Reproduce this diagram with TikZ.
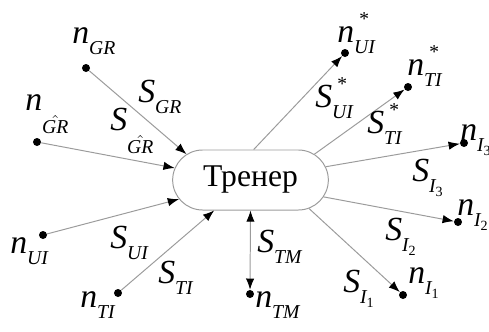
\documentclass[tikz,border=0pt]{standalone}
\usepackage{amsmath}
\usepackage{fontspec}
\setmainfont{Liberation Serif}
\usetikzlibrary{arrows.meta,shapes.misc}
\definecolor{lineg}{RGB}{155,155,155}
% label parts
\newcommand{\lsub}[1]{\raisebox{-8pt}{\fontsize{14}{14}\selectfont #1}}
\newcommand{\lidx}[1]{I\raisebox{-3pt}{\fontsize{10}{10}\selectfont\upshape #1}}
\newcommand{\lstar}{\makebox[0pt][l]{\hspace{3pt}\raisebox{12pt}{\fontsize{14}{14}\selectfont *}}}
\newcommand{\lhat}[1]{\raisebox{-17pt}{\fontsize{14}{14}\selectfont$\hat{\textit{#1}}$}}
\tikzset{
  dot/.style={circle,fill=black,inner sep=0pt,minimum size=0.2cm},
  conn/.style={draw=lineg,line width=0.7pt,-{Latex[length=2.8mm,width=2.1mm,color=black]}},
  both/.style={draw=lineg,line width=0.7pt,{Latex[length=2.8mm,width=2.1mm,color=black]}-{Latex[length=2.8mm,width=2.1mm,color=black]}},
  lbl/.style={anchor=base west,inner sep=0pt,font=\fontsize{24}{26}\selectfont\itshape},
}

\begin{document}
\begin{tikzpicture}[x=0.025cm,y=-0.025cm]
  \useasboundingbox (0,0) rectangle (489,331);
  %% Trainer
  \node[draw=lineg,line width=0.7pt,rounded rectangle,
        minimum width=4.125cm,minimum height=1.5cm,
        font=\fontsize{22.5}{24}\selectfont] (trainer) at (250.5,180) {Тренер};

  %% Points
  \node[dot] (nGR)  at (86,68) {};
  \node[dot] (nGRh) at (37,142) {};
  \node[dot] (nUI)  at (43,235) {};
  \node[dot] (nTI)  at (118,293) {};
  \node[dot] (nTM)  at (250,294) {};
  \node[dot] (nI1)  at (403,295) {};
  \node[dot] (nI2)  at (458,222) {};
  \node[dot] (nI3)  at (464,143) {};
  \node[dot] (nTIs) at (408,87) {};
  \node[dot] (nUIs) at (345,53) {};

  %% Inputs
  \draw[conn] (nGR)  -- (trainer.158);
  \draw[conn] (nGRh) -- (trainer.171);
  \draw[conn] (nUI)  -- (trainer.195);
  \draw[conn] (nTI)  -- (trainer.220);
  \draw[both] (trainer.270) -- (nTM);
  %% Outputs
  \draw[conn] (trainer.84)  -- (nUIs);
  \draw[conn] (trainer.22)  -- (nTIs);
  \draw[conn] (trainer.10)  -- (nI3);
  \draw[conn] (trainer.347) -- (nI2);
  \draw[conn] (trainer.334) -- (nI1);

  %% Labels
  \node[lbl] (lnGR)  at (72,43)   {n\lsub{GR}};
  \node[lbl] (lsGR)  at (138,102) {S\lsub{GR}};
  \node[lbl] (lsGRh) at (110,130) {S\lhat{GR}};
  \node[lbl] (lnGRh) at (25,110)  {n\lhat{GR}};
  \node[lbl] (lnUI)  at (10,253)  {n\lsub{UI}};
  \node[lbl] (lsUI)  at (110,248) {S\lsub{UI}};
  \node[lbl] (lsTI)  at (158,283) {S\lsub{TI}};
  \node[lbl] (lnTI)  at (80,307)  {n\lsub{TI}};
  \node[lbl] (lsTM)  at (257,252) {S\lsub{TM}};
  \node[lbl] (lnTM)  at (255,307) {n\lsub{TM}};
  \node[lbl] (lsI1)  at (343,292) {S\lsub{\lidx{1}}};
  \node[lbl] (lnI1)  at (408,283) {n\lsub{\lidx{1}}};
  \node[lbl] (lsI2)  at (385,240) {S\lsub{\lidx{2}}};
  \node[lbl] (lnI2)  at (457,215) {n\lsub{\lidx{2}}};
  \node[lbl] (lsI3)  at (412,181) {S\lsub{\lidx{3}}};
  \node[lbl] (lnI3)  at (460,140) {n\lsub{\lidx{3}}};
  \node[lbl] (lsTIs) at (367,133) {S\lstar\lsub{TI}};
  \node[lbl] (lnTIs) at (407,75)  {n\lstar\lsub{TI}};
  \node[lbl] (lsUIs) at (315,107) {S\lstar\lsub{UI}};
  \node[lbl] (lnUIs) at (337,42)  {n\lstar\lsub{UI}};
\end{tikzpicture}
\end{document}
